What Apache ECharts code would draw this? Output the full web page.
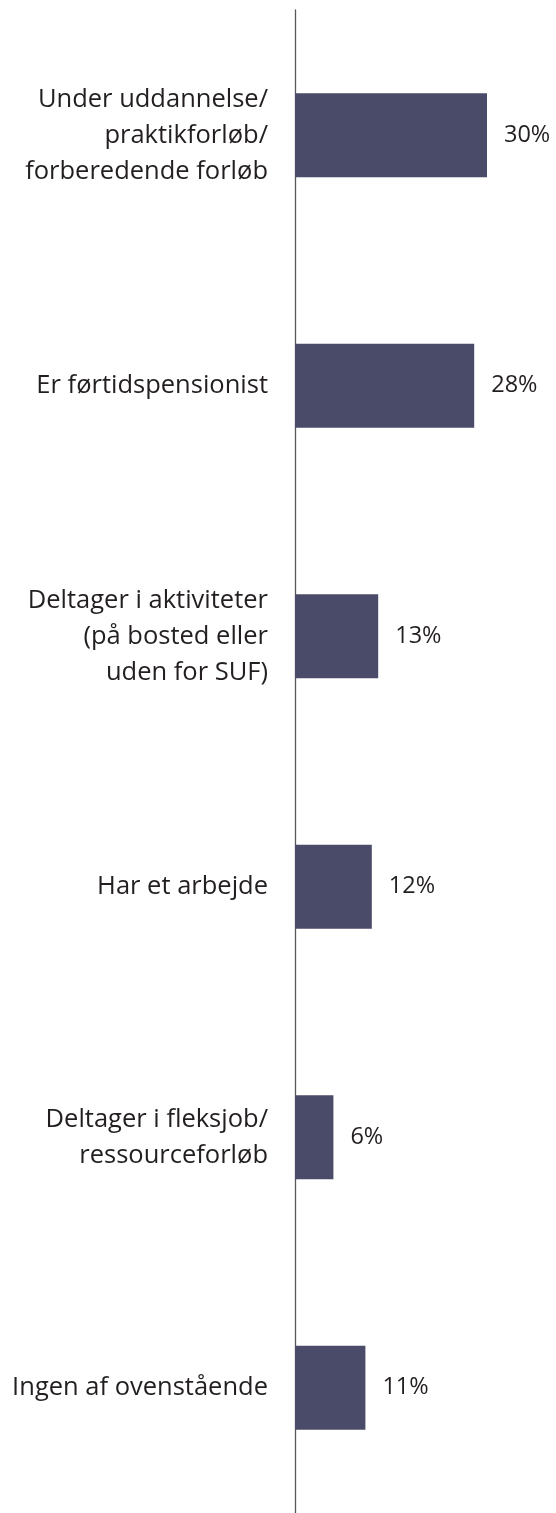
<!DOCTYPE html>
<html>
<head>
<meta charset="utf-8">
<script src="https://cdn.jsdelivr.net/npm/echarts@6/dist/echarts.min.js"></script>
<style>
html,body{margin:0;padding:0;background:#fff;}
#c{width:556px;height:1513px;}
</style>
</head>
<body>
<div id="c"></div>
<script>
const categories = [
  "Under uddannelse/\npraktikforløb/\nforberedende forløb",
  "Er førtidspensionist",
  "Deltager i aktiviteter\n(på bosted eller\nuden for SUF)",
  "Har et arbejde",
  "Deltager i fleksjob/\nressourceforløb",
  "Ingen af ovenstående"
];
const values = [30, 28, 13, 12, 6, 11];

const chart = echarts.init(document.getElementById('c'), null, {renderer: 'canvas'});
const font = "'Open Sans', 'Noto Sans', sans-serif";
chart.setOption({
  animation: false,
  backgroundColor: '#ffffff',
  grid: {left: 295, top: 10, width: 256, height: 1512, containLabel: false},
  xAxis: {
    type: 'value', min: 0, max: 40, show: false
  },
  yAxis: {
    type: 'category',
    data: categories,
    inverse: true,
    axisLine: {show: true, lineStyle: {color: '#595959', width: 1.3}},
    axisTick: {show: false},
    splitLine: {show: false},
    axisLabel: {
      margin: 27,
      color: '#231f20',
      fontFamily: font,
      fontSize: 25.5,
      lineHeight: 36,
      align: 'right'
    }
  },
  series: [{
    type: 'bar',
    data: values,
    barWidth: 84,
    itemStyle: {color: '#494b68'},
    label: {
      show: true,
      position: 'right',
      distance: 17,
      formatter: '{c}%',
      color: '#231f20',
      fontFamily: font,
      fontSize: 23.5
    }
  }]
});
</script>
</body>
</html>
